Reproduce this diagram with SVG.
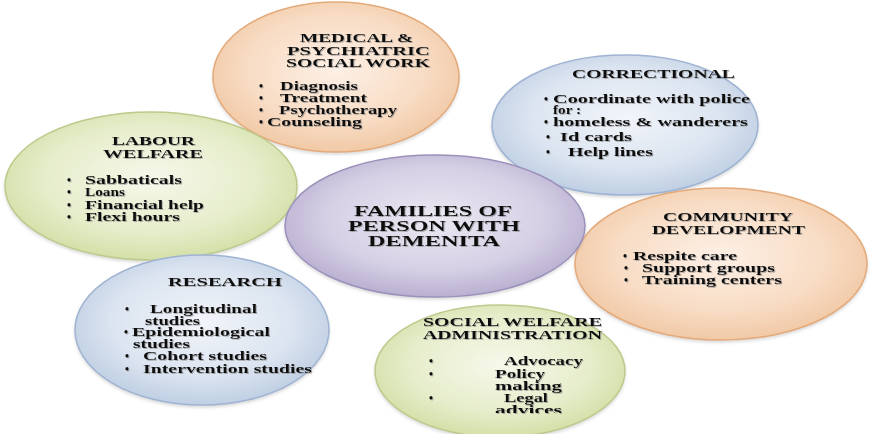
<svg xmlns="http://www.w3.org/2000/svg" width="871" height="434" viewBox="0 0 871 434">
<defs>
<radialGradient id="gOrange" cx="50%" cy="45%" r="60%">
<stop offset="0" stop-color="#fdf0e6"/><stop offset="0.6" stop-color="#f8dcc4"/><stop offset="1" stop-color="#efc49e"/>
</radialGradient>
<radialGradient id="gBlue" cx="50%" cy="45%" r="60%">
<stop offset="0" stop-color="#f2f5fa"/><stop offset="0.6" stop-color="#dbe4f0"/><stop offset="1" stop-color="#b8c9e0"/>
</radialGradient>
<radialGradient id="gGreen" cx="50%" cy="45%" r="60%">
<stop offset="0" stop-color="#f6f8ea"/><stop offset="0.6" stop-color="#e6edcb"/><stop offset="1" stop-color="#cfdc9f"/>
</radialGradient>
<radialGradient id="gPurple" cx="50%" cy="45%" r="60%">
<stop offset="0" stop-color="#ebe8f2"/><stop offset="0.6" stop-color="#d6d0e5"/><stop offset="1" stop-color="#b2a7cb"/>
</radialGradient>
<filter id="ts" x="-5%" y="-20%" width="110%" height="140%">
<feDropShadow dx="1" dy="1" stdDeviation="0.7" flood-color="#7a7a7a" flood-opacity="0.55"/>
</filter>
<filter id="es" x="-5%" y="-5%" width="110%" height="115%">
<feDropShadow dx="0" dy="2" stdDeviation="1.5" flood-color="#999" flood-opacity="0.35"/>
</filter>
<clipPath id="cut"><rect x="0" y="0" width="871" height="413"/></clipPath>
</defs>
<style>
text{font-family:"Liberation Serif","Times New Roman",serif;font-weight:bold;fill:#111}
.t{font-size:13.5px}
.c{font-size:15.5px}
.i{font-size:11.5px}
.o{stroke-width:1.5}
.or{fill:url(#gOrange);stroke:#e4aa7a}
.bl{fill:url(#gBlue);stroke:#9fb4d3}
.gr{fill:url(#gGreen);stroke:#bccb8c}
.pu{fill:url(#gPurple);stroke:#9c91bb}
.tx{filter:url(#ts)}
</style>
<rect width="871" height="434" fill="#ffffff"/>
<g id="connectors"/>

<g id="medical">
<ellipse class="o or" filter="url(#es)" cx="336" cy="77" rx="123" ry="75"/>
<g class="tx">
<text class="t" x="300" y="42" textLength="113" lengthAdjust="spacingAndGlyphs">MEDICAL &amp;</text>
<text class="t" x="287" y="54.5" textLength="143" lengthAdjust="spacingAndGlyphs">PSYCHIATRIC</text>
<text class="t" x="286" y="67" textLength="144" lengthAdjust="spacingAndGlyphs">SOCIAL WORK</text>
<text class="i" x="259" y="89.5">•</text>
<text class="i" x="280" y="89.5" textLength="78" lengthAdjust="spacingAndGlyphs">Diagnosis</text>
<text class="i" x="259" y="101.5">•</text>
<text class="i" x="280" y="101.5" textLength="87" lengthAdjust="spacingAndGlyphs">Treatment</text>
<text class="i" x="259" y="113.5">•</text>
<text class="i" x="279" y="113.5" textLength="118" lengthAdjust="spacingAndGlyphs">Psychotherapy</text>
<text class="i" x="259" y="125.5">•</text>
<text class="i" x="267" y="125.5" textLength="95" lengthAdjust="spacingAndGlyphs">Counseling</text>
</g>
</g>

<g id="correctional">
<ellipse class="o bl" filter="url(#es)" cx="625" cy="125" rx="133" ry="70"/>
<g class="tx">
<text class="t" x="572" y="78" textLength="163" lengthAdjust="spacingAndGlyphs">CORRECTIONAL</text>
<text class="i" x="544" y="103">•</text>
<text class="i" x="553" y="103" textLength="197" lengthAdjust="spacingAndGlyphs">Coordinate with  police</text>
<text class="i" x="553" y="114" textLength="28" lengthAdjust="spacingAndGlyphs">for :</text>
<text class="i" x="544" y="126">•</text>
<text class="i" x="553" y="126" textLength="195" lengthAdjust="spacingAndGlyphs">homeless &amp; wanderers</text>
<text class="i" x="546" y="141">•</text>
<text class="i" x="560" y="141" textLength="72" lengthAdjust="spacingAndGlyphs">Id cards</text>
<text class="i" x="546" y="156">•</text>
<text class="i" x="568" y="156" textLength="85" lengthAdjust="spacingAndGlyphs">Help lines</text>
</g>
</g>

<g id="labour">
<ellipse class="o gr" filter="url(#es)" cx="151" cy="186" rx="146" ry="74"/>
<g class="tx">
<text class="t" x="112" y="145" textLength="83" lengthAdjust="spacingAndGlyphs">LABOUR</text>
<text class="t" x="103" y="158" textLength="100" lengthAdjust="spacingAndGlyphs">WELFARE</text>
<text class="i" x="67" y="184">•</text>
<text class="i" x="85" y="184" textLength="97" lengthAdjust="spacingAndGlyphs">Sabbaticals</text>
<text class="i" x="67" y="196">•</text>
<text class="i" x="85" y="196" textLength="40" lengthAdjust="spacingAndGlyphs">Loans</text>
<text class="i" x="67" y="208.5">•</text>
<text class="i" x="85" y="208.5" textLength="119" lengthAdjust="spacingAndGlyphs">Financial help</text>
<text class="i" x="67" y="221">•</text>
<text class="i" x="85" y="221" textLength="95" lengthAdjust="spacingAndGlyphs">Flexi hours</text>
</g>
</g>

<g id="community">
<ellipse class="o or" filter="url(#es)" cx="721" cy="264" rx="146" ry="76"/>
<g class="tx">
<text class="t" x="663" y="221" textLength="130" lengthAdjust="spacingAndGlyphs">COMMUNITY</text>
<text class="t" x="652" y="234" textLength="153" lengthAdjust="spacingAndGlyphs">DEVELOPMENT</text>
<text class="i" x="623" y="260">•</text>
<text class="i" x="633" y="260" textLength="104" lengthAdjust="spacingAndGlyphs">Respite care</text>
<text class="i" x="624" y="272">•</text>
<text class="i" x="642" y="272" textLength="133" lengthAdjust="spacingAndGlyphs">Support groups</text>
<text class="i" x="624" y="284">•</text>
<text class="i" x="642" y="284" textLength="140" lengthAdjust="spacingAndGlyphs">Training centers</text>
</g>
</g>

<g id="research">
<ellipse class="o bl" filter="url(#es)" cx="202" cy="330" rx="127" ry="75"/>
<g class="tx">
<text class="t" x="168" y="286" textLength="114" lengthAdjust="spacingAndGlyphs">RESEARCH</text>
<text class="i" x="125" y="313">•</text>
<text class="i" x="150" y="313" textLength="107" lengthAdjust="spacingAndGlyphs">Longitudinal</text>
<text class="i" x="145" y="324.5" textLength="55" lengthAdjust="spacingAndGlyphs">studies</text>
<text class="i" x="124" y="336">•</text>
<text class="i" x="132" y="336" textLength="138" lengthAdjust="spacingAndGlyphs">Epidemiological</text>
<text class="i" x="133" y="347.5" textLength="57" lengthAdjust="spacingAndGlyphs">studies</text>
<text class="i" x="125" y="360">•</text>
<text class="i" x="143" y="360" textLength="124" lengthAdjust="spacingAndGlyphs">Cohort studies</text>
<text class="i" x="125" y="373">•</text>
<text class="i" x="143" y="373" textLength="169" lengthAdjust="spacingAndGlyphs">Intervention studies</text>
</g>
</g>

<g id="social-welfare">
<ellipse class="o gr" filter="url(#es)" cx="500" cy="371" rx="125" ry="66"/>
<g class="tx">
<text class="t" x="423" y="326" textLength="179" lengthAdjust="spacingAndGlyphs">SOCIAL WELFARE</text>
<text class="t" x="423" y="339" textLength="179" lengthAdjust="spacingAndGlyphs">ADMINISTRATION</text>
<text class="i" x="429" y="365">•</text>
<text class="i" x="504" y="365" textLength="79" lengthAdjust="spacingAndGlyphs">Advocacy</text>
<text class="i" x="429" y="377.5">•</text>
<text class="i" x="495" y="377.5" textLength="50" lengthAdjust="spacingAndGlyphs">Policy</text>
<text class="i" x="495" y="389.5" textLength="67" lengthAdjust="spacingAndGlyphs">making</text>
<text class="i" x="429" y="402">•</text>
<text class="i" x="504" y="402" textLength="44" lengthAdjust="spacingAndGlyphs">Legal</text>
<text class="i" x="495" y="414" textLength="67" lengthAdjust="spacingAndGlyphs" clip-path="url(#cut)">advices</text>
</g>
</g>

<g id="families">
<ellipse class="o pu" filter="url(#es)" cx="435" cy="226" rx="150" ry="71"/>
<g class="tx">
<text class="c" x="354" y="216" textLength="158" lengthAdjust="spacingAndGlyphs">FAMILIES OF</text>
<text class="c" x="348" y="231" textLength="172" lengthAdjust="spacingAndGlyphs">PERSON WITH</text>
<text class="c" x="368" y="246" textLength="132" lengthAdjust="spacingAndGlyphs">DEMENITA</text>
</g>
</g>
</svg>
